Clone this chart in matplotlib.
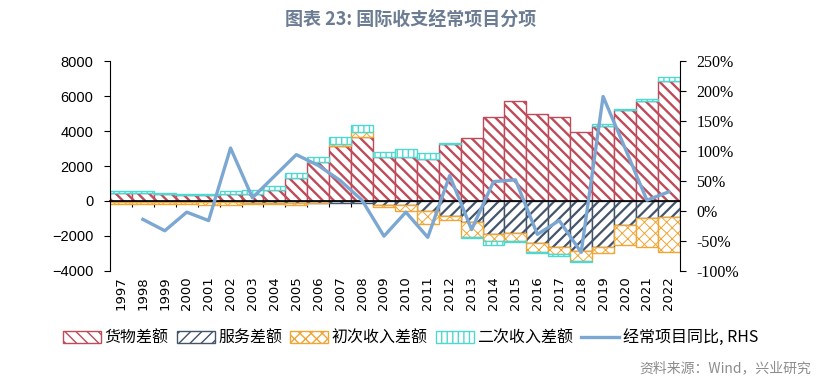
import numpy as np
import matplotlib
matplotlib.use('Agg')
import matplotlib.pyplot as plt
from matplotlib.patches import Patch
from matplotlib.lines import Line2D
from matplotlib.ticker import FuncFormatter

plt.rcParams['font.family'] = ['Noto Sans CJK SC', 'DejaVu Sans']
plt.rcParams['hatch.linewidth'] = 1.5

# 亿美元
years = list(range(1997, 2023))
goods = [470, 470, 380, 330, 330, 420, 420, 600, 1330, 2220, 3160, 3640, 2540,
         2530, 2400, 3250, 3620, 4810, 5740, 4980, 4810, 3960, 4280, 5230, 5700, 6890]
services = [-30, -30, -50, -60, -60, -70, -90, -100, -90, -90, -100, -110, -250,
            -250, -590, -870, -1230, -1910, -1820, -2420, -2650, -2860, -2610, -1380, -950, -910]
primary = [-120, -160, -140, -140, -190, -150, -100, -50, -160, -50, 100, 280, -110,
           -320, -700, -190, -810, -380, -450, -480, -380, -550, -340, -1140, -1660, -1990]
secondary = [80, 80, 60, 80, 90, 150, 180, 230, 260, 280, 380, 455, 290,
             450, 320, 40, -60, -250, -100, -70, -90, -60, 150, 40, 150, 190]
# 经常项目同比 (%), 1997 无数据
ca_yoy = [np.nan, -14, -33, -2, -16, 105, 22, 58, 94, 76, 51, 18, -42,
          -2, -44, 59, -31, 49, 52, -39, -16, -69, 191, 105, 18, 32]

names = ['货物差额', '服务差额', '初次收入差额', '二次收入差额']
colors = ['#BE4B5A', '#44546A', '#F0A535', '#4FD8CF']
hatches = ['\\\\\\', '///', 'xxx', '|||']
hatch_lw = [1.7, 1.6, 0.7, 1.0]


def set_hlw(patch, lw):
    try:
        patch.set_hatch_linewidth(lw)
    except AttributeError:
        pass


fig = plt.figure(figsize=(8.21, 3.87), dpi=100)
ax = fig.add_axes([0.134, 0.300, 0.694, 0.542])

x = np.arange(len(years))
pos = np.zeros(len(years))
neg = np.zeros(len(years))
for vals, c, h, hl in zip([goods, services, primary, secondary], colors, hatches, hatch_lw):
    plt.rcParams['hatch.linewidth'] = hl
    v = np.array(vals, dtype=float)
    bottom = np.where(v >= 0, pos, neg)
    bars = ax.bar(x, v, width=1.0, bottom=bottom, facecolor='white', edgecolor=c,
                  hatch=h, linewidth=1.0, zorder=2)
    for b in bars:
        set_hlw(b, hl)
    pos += np.clip(v, 0, None)
    neg += np.clip(v, None, 0)

ax.set_xlim(-0.5, len(years) - 0.5)
ax.set_ylim(-4000, 8000)
ax.set_yticks(range(-4000, 8001, 2000))
ax.tick_params(axis='y', direction='out', length=4, labelsize=10.5, pad=8)
for t in ax.get_yticklabels():
    t.set_fontfamily('Liberation Sans')

# x axis line at zero with ticks between categories
ax.spines['bottom'].set_position(('data', 0))
ax.spines['bottom'].set_linewidth(1.2)
ax.spines['bottom'].set_zorder(3)
ax.set_xticks(np.arange(0.5, len(years) - 1, 1))
ax.set_xticklabels([])
ax.tick_params(axis='x', direction='out', length=4)
ax.spines['top'].set_visible(False)
ax.spines['right'].set_visible(False)

sec = ax.secondary_xaxis(0)
sec.set_xticks(x)
sec.set_xticklabels([str(y) for y in years], rotation=90, fontsize=9.5,
                    fontfamily='DejaVu Sans')
sec.tick_params(length=0, pad=4)
sec.spines['bottom'].set_visible(False)

ax2 = ax.twinx()
ax2.plot(x, ca_yoy, color='#7BA7D2', linewidth=2.4, zorder=5)
ax2.set_ylim(-100, 250)
ax2.set_yticks(range(-100, 251, 50))
ax2.yaxis.set_major_formatter(FuncFormatter(lambda v, p: f'{v:.0f}%'))
ax2.tick_params(axis='y', direction='out', length=4, labelsize=11.5, pad=8)
for t in ax2.get_yticklabels():
    t.set_fontfamily('Liberation Serif')
for s in ['top', 'bottom', 'left']:
    ax2.spines[s].set_visible(False)

handles = []
for c, h, hl in zip(colors, hatches, hatch_lw):
    plt.rcParams['hatch.linewidth'] = hl
    p = Patch(facecolor='white', edgecolor=c, hatch=h)
    set_hlw(p, hl)
    handles.append(p)
handles.append(Line2D([], [], color='#7BA7D2', linewidth=2.4))
labels = names + ['经常项目同比, RHS']
fig.legend(handles, labels, loc='center', bbox_to_anchor=(0.5, 0.127), ncol=5,
           frameon=False, fontsize=11.5, handlelength=2.4, handleheight=0.75,
           handletextpad=0.2, columnspacing=0.5)

fig.text(0.5, 0.948, '图表 23: 国际收支经常项目分项', ha='center', va='center',
         fontsize=13, fontweight='bold', color='#6B7C93')
fig.text(0.988, 0.048, '资料来源：Wind，兴业研究', ha='right', va='center',
         fontsize=10, color='#8C8C8C')

fig.savefig('out.png', dpi=100)
